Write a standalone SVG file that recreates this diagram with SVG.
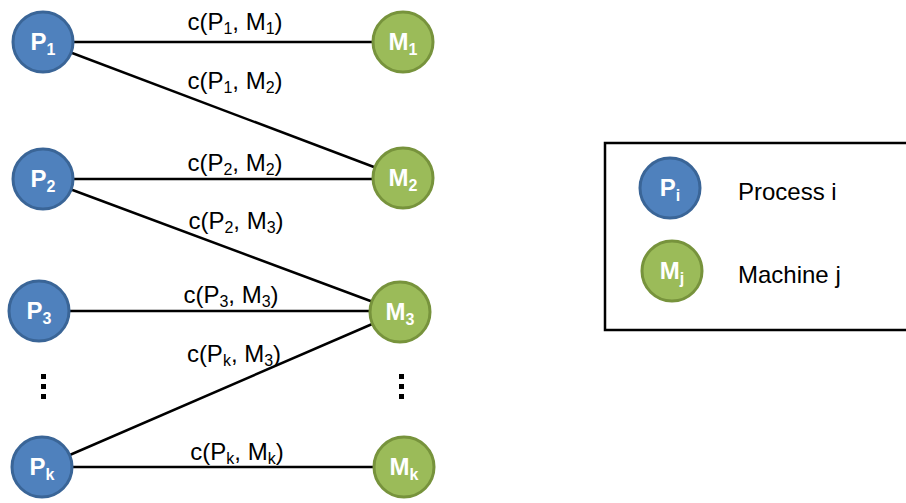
<svg xmlns="http://www.w3.org/2000/svg" width="906" height="503" viewBox="0 0 906 503">
<style>
.p{fill:#4f81bd;stroke:#3a6597;stroke-width:3}
.m{fill:#9bbb59;stroke:#77933c;stroke-width:3}
.nt{font-family:"Liberation Sans",Arial,sans-serif;font-weight:bold;font-size:24px;fill:#fff;text-anchor:middle}
.sub{font-size:16px}
.lb{font-family:"Liberation Sans",Arial,sans-serif;font-size:24px;fill:#000;text-anchor:middle}
.ls{font-size:16px}
.lt{font-family:"Liberation Sans",Arial,sans-serif;font-size:24px;fill:#000}
.e{stroke:#000;stroke-width:2.5;fill:none}
</style>
<rect width="906" height="503" fill="#fff"/>
<g id="connectors">
<line class="e" x1="43" y1="42" x2="403" y2="42"/>
<line class="e" x1="43" y1="42" x2="403" y2="178"/>
<line class="e" x1="43" y1="179" x2="403" y2="179"/>
<line class="e" x1="43" y1="179" x2="400" y2="312"/>
<line class="e" x1="39" y1="311" x2="400" y2="311"/>
<line class="e" x1="42" y1="467" x2="400" y2="312"/>
<line class="e" x1="42" y1="467" x2="404" y2="467"/>
</g>
<g id="labels">
<text class="lb" x="235" y="30">c(P<tspan class="ls" dy="4">1</tspan><tspan dy="-4">, M</tspan><tspan class="ls" dy="4">1</tspan><tspan dy="-4">)</tspan></text>
<text class="lb" x="235" y="89">c(P<tspan class="ls" dy="4">1</tspan><tspan dy="-4">, M</tspan><tspan class="ls" dy="4">2</tspan><tspan dy="-4">)</tspan></text>
<text class="lb" x="235" y="171">c(P<tspan class="ls" dy="4">2</tspan><tspan dy="-4">, M</tspan><tspan class="ls" dy="4">2</tspan><tspan dy="-4">)</tspan></text>
<text class="lb" x="236" y="229">c(P<tspan class="ls" dy="4">2</tspan><tspan dy="-4">, M</tspan><tspan class="ls" dy="4">3</tspan><tspan dy="-4">)</tspan></text>
<text class="lb" x="231" y="303">c(P<tspan class="ls" dy="4">3</tspan><tspan dy="-4">, M</tspan><tspan class="ls" dy="4">3</tspan><tspan dy="-4">)</tspan></text>
<text class="lb" x="234" y="362">c(P<tspan class="ls" dy="4">k</tspan><tspan dy="-4">, M</tspan><tspan class="ls" dy="4">3</tspan><tspan dy="-4">)</tspan></text>
<text class="lb" x="237" y="460">c(P<tspan class="ls" dy="4">k</tspan><tspan dy="-4">, M</tspan><tspan class="ls" dy="4">k</tspan><tspan dy="-4">)</tspan></text>
</g>
<g id="P1"><circle class="p" cx="43" cy="42" r="30"/><text class="nt" x="43" y="50">P<tspan class="sub" dy="5">1</tspan></text></g>
<g id="P2"><circle class="p" cx="43" cy="179" r="30"/><text class="nt" x="43" y="187">P<tspan class="sub" dy="5">2</tspan></text></g>
<g id="P3"><circle class="p" cx="39" cy="311" r="30"/><text class="nt" x="39" y="319">P<tspan class="sub" dy="5">3</tspan></text></g>
<g id="Pk"><circle class="p" cx="42" cy="467" r="30"/><text class="nt" x="42" y="475">P<tspan class="sub" dy="5">k</tspan></text></g>
<g id="M1"><circle class="m" cx="403" cy="42" r="30"/><text class="nt" x="403" y="50">M<tspan class="sub" dy="5">1</tspan></text></g>
<g id="M2"><circle class="m" cx="403" cy="178" r="30"/><text class="nt" x="403" y="186">M<tspan class="sub" dy="5">2</tspan></text></g>
<g id="M3"><circle class="m" cx="400" cy="312" r="30"/><text class="nt" x="400" y="320">M<tspan class="sub" dy="5">3</tspan></text></g>
<g id="Mk"><circle class="m" cx="404" cy="467" r="30"/><text class="nt" x="404" y="475">M<tspan class="sub" dy="5">k</tspan></text></g>
<g id="dots-left" fill="#000"><rect x="41" y="374" width="5" height="5"/><rect x="41" y="384" width="5" height="5"/><rect x="41" y="394" width="5" height="5"/></g>
<g id="dots-right" fill="#000"><rect x="399" y="374" width="5" height="5"/><rect x="399" y="384" width="5" height="5"/><rect x="399" y="394" width="5" height="5"/></g>
<g id="legend">
<rect x="605" y="143" width="320" height="187" fill="none" stroke="#000" stroke-width="2.5"/>
<g id="legend-P"><circle class="p" cx="670" cy="188" r="30"/><text class="nt" x="670" y="196">P<tspan class="sub" dy="5">i</tspan></text></g>
<text class="lt" x="738" y="200">Process i</text>
<g id="legend-M"><circle class="m" cx="672" cy="271" r="30"/><text class="nt" x="672" y="279">M<tspan class="sub" dy="5">j</tspan></text></g>
<text class="lt" x="738" y="283">Machine j</text>
</g>
</svg>
